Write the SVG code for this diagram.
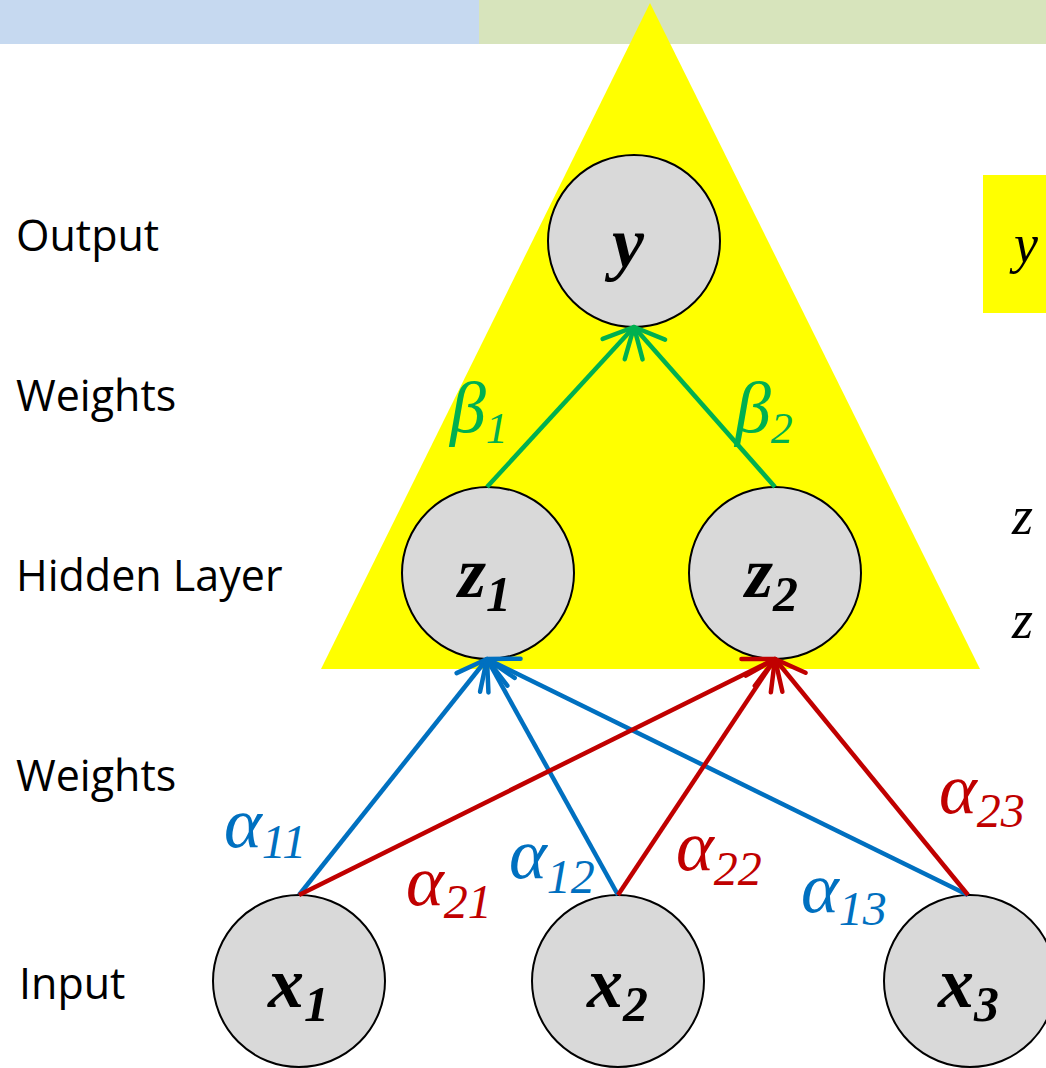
<svg xmlns="http://www.w3.org/2000/svg" width="1046" height="1068" viewBox="0 0 1046 1068">
<defs>
<style>
.lbl{font-family:"Open Sans","DejaVu Sans",sans-serif;font-size:43px;fill:#000}
.node circle{fill:#D9D9D9;stroke:#000;stroke-width:2}
.nt{font-family:"Liberation Serif","Times New Roman",serif;font-weight:bold;font-style:italic;font-size:72px;fill:#000}
.gr{font-family:"Liberation Serif","Times New Roman",serif;font-style:italic;font-size:72px}
.blue{fill:#0070C0}.red{fill:#C00000}.green{fill:#00B050}
.math{font-family:"Liberation Serif","DejaVu Serif",serif;font-style:italic;font-size:54px;fill:#000}
.cb{stroke:#0070C0;stroke-width:4.5;fill:none}
.cr{stroke:#C00000;stroke-width:4.5;fill:none}
.cg{stroke:#00B050;stroke-width:4.5;fill:none}
</style>
<marker id="ab" markerUnits="userSpaceOnUse" markerWidth="44" markerHeight="44" viewBox="-38 -22 44 44" refX="0" refY="0" orient="auto"><path d="M-30,-15 L0,0 L-30,15" fill="none" stroke="#0070C0" stroke-width="4.5" stroke-linecap="round" stroke-linejoin="round"/></marker>
<marker id="ar" markerUnits="userSpaceOnUse" markerWidth="44" markerHeight="44" viewBox="-38 -22 44 44" refX="0" refY="0" orient="auto"><path d="M-30,-15 L0,0 L-30,15" fill="none" stroke="#C00000" stroke-width="4.5" stroke-linecap="round" stroke-linejoin="round"/></marker>
<marker id="ag" markerUnits="userSpaceOnUse" markerWidth="44" markerHeight="44" viewBox="-38 -22 44 44" refX="0" refY="0" orient="auto"><path d="M-30,-15 L0,0 L-30,15" fill="none" stroke="#00B050" stroke-width="4.5" stroke-linecap="round" stroke-linejoin="round"/></marker>
</defs>
<rect width="1046" height="1068" fill="#fff"/>
<g id="topbar">
<rect x="0" y="0" width="479" height="44" fill="#C6D9F0"/>
<rect x="479" y="0" width="567" height="44" fill="#D7E4BC"/>
</g>
<polygon id="triangle" points="650,3 321,669 980,669" fill="#FFFF00"/>
<g id="formula">
<rect x="983" y="175" width="63" height="138" fill="#FFFF00"/>
<text class="math" x="1014" y="262">y</text>
<text class="math" x="1012" y="534">z</text>
<text class="math" x="1012" y="638">z</text>
</g>
<g id="labels">
<text class="lbl" x="16" y="251">Output</text>
<text class="lbl" x="16" y="411">Weights</text>
<text class="lbl" x="16" y="591">Hidden Layer</text>
<text class="lbl" x="16" y="791">Weights</text>
<text class="lbl" x="19" y="999">Input</text>
</g>
<g id="node-y" class="node"><circle cx="634" cy="241" r="86"/><text class="nt" x="612" y="267">y</text></g>
<g id="node-z1" class="node"><circle cx="488" cy="573" r="86"/><text class="nt" x="458" y="597">z<tspan font-size="50" dy="14">1</tspan></text></g>
<g id="node-z2" class="node"><circle cx="775" cy="573" r="86"/><text class="nt" x="745" y="597">z<tspan font-size="50" dy="14">2</tspan></text></g>
<g id="node-x1" class="node"><circle cx="299" cy="981" r="86"/><text class="nt" x="268" y="1007">x<tspan font-size="50" dy="14">1</tspan></text></g>
<g id="node-x2" class="node"><circle cx="618" cy="981" r="86"/><text class="nt" x="587" y="1007">x<tspan font-size="50" dy="14">2</tspan></text></g>
<g id="node-x3" class="node"><circle cx="970" cy="981" r="86"/><text class="nt" x="938" y="1007">x<tspan font-size="50" dy="14">3</tspan></text></g>
<g id="connectors">
<line class="cg" x1="487" y1="487" x2="634" y2="327" marker-end="url(#ag)"/>
<line class="cg" x1="775" y1="487" x2="634" y2="327" marker-end="url(#ag)"/>
<line class="cb" x1="299" y1="895" x2="487" y2="659" marker-end="url(#ab)"/>
<line class="cb" x1="618" y1="895" x2="487" y2="659" marker-end="url(#ab)"/>
<line class="cb" x1="968" y1="895" x2="487" y2="659" marker-end="url(#ab)"/>
<line class="cr" x1="299" y1="895" x2="775" y2="659" marker-end="url(#ar)"/>
<line class="cr" x1="618" y1="895" x2="775" y2="659" marker-end="url(#ar)"/>
<line class="cr" x1="968" y1="895" x2="775" y2="659" marker-end="url(#ar)"/>
</g>
<g id="weight-labels">
<text class="gr green" x="450" y="432" font-size="68">β<tspan font-size="44" dy="11">1</tspan></text>
<text class="gr green" x="735" y="432" font-size="68">β<tspan font-size="44" dy="11">2</tspan></text>
<text class="gr blue" x="224" y="847">α<tspan font-size="48" dy="11">11</tspan></text>
<text class="gr red" x="406" y="905">α<tspan font-size="48" dy="13">21</tspan></text>
<text class="gr blue" x="509" y="878">α<tspan font-size="48" dy="15">12</tspan></text>
<text class="gr red" x="676" y="870">α<tspan font-size="48" dy="15">22</tspan></text>
<text class="gr blue" x="801" y="912">α<tspan font-size="48" dy="13">13</tspan></text>
<text class="gr red" x="939" y="813">α<tspan font-size="48" dy="14">23</tspan></text>
</g>
</svg>
